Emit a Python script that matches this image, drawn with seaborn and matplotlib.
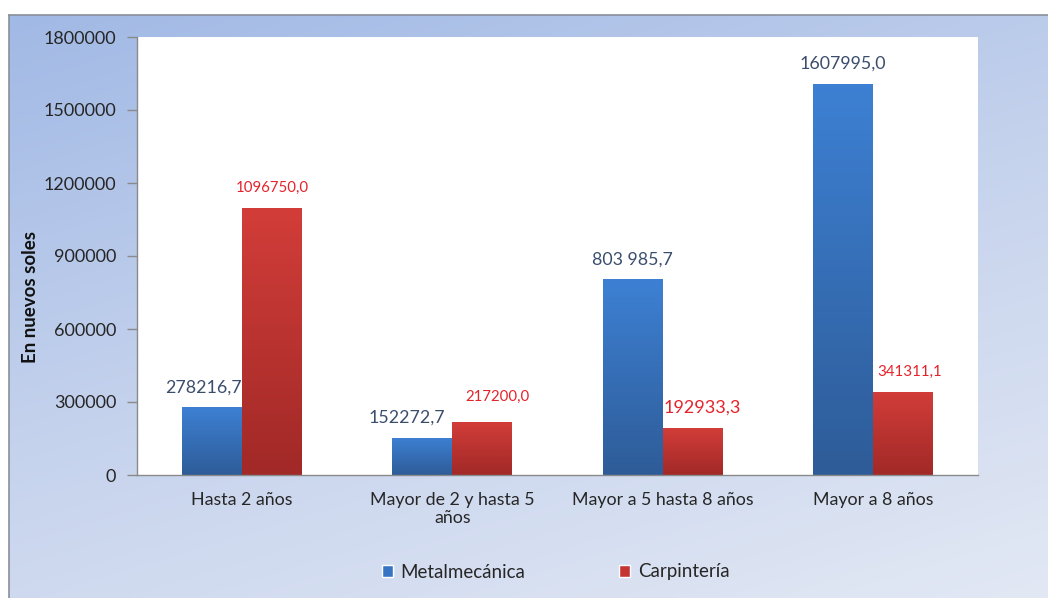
import pandas as pd
import matplotlib.pyplot as plt
import seaborn as sns
import numpy as np
from matplotlib.colors import LinearSegmentedColormap
from matplotlib.patches import Patch

# Datos del grafico
categorias = ["Hasta 2 años", "Mayor de 2 y hasta 5\naños",
              "Mayor a 5 hasta 8 años", "Mayor a 8 años"]
series = ["Metalmecánica", "Carpintería"]
metalmecanica = [278216.7, 152272.7, 803985.7, 1607995.0]
carpinteria = [1096750.0, 217200.0, 192933.3, 341311.1]
etiquetas_metal = ["278216,7", "152272,7", "803 985,7", "1607995,0"]
etiquetas_carp = ["1096750,0", "217200,0", "192933,3", "341311,1"]
yticks = [0, 300000, 600000, 900000, 1200000, 1500000, 1800000]

df = pd.DataFrame({
    "categoria": categorias * 2,
    "serie": [series[0]] * 4 + [series[1]] * 4,
    "valor": metalmecanica + carpinteria,
})

sns.set_style("white")
plt.rcParams['font.family'] = ['Lato', 'DejaVu Sans']

fig = plt.figure(figsize=(10.48, 5.98), dpi=100)
W, H = 1048, 598

# fondo degradado azul
bg = fig.add_axes([9 / W, 0, 1 - 9 / W, 1 - 15 / H])
yy, xx = np.mgrid[0:1:200j, 0:1:300j]
g = 0.65 * yy + 0.35 * xx
bg_cmap = LinearSegmentedColormap.from_list("bg", ["#a1b9e5", "#c6d3ed", "#e2e8f4"])
bg.imshow(g, cmap=bg_cmap, aspect="auto", extent=[0, 1, 1, 0])
bg.set_xticks([])
bg.set_yticks([])
for s in ["top", "left"]:
    bg.spines[s].set_color("#8a8f99")
    bg.spines[s].set_linewidth(1.2)
for s in ["right", "bottom"]:
    bg.spines[s].set_visible(False)

ax = fig.add_axes([137 / W, 1 - 475 / H, (978 - 137) / W, (475 - 37) / H])
ax.set_facecolor("white")

sns.barplot(data=df, x="categoria", y="valor", hue="serie",
            palette=["#3874c4", "#c43532"], width=0.57, legend=False,
            saturation=1, ax=ax)

# degradado en las barras
blue_cmap = LinearSegmentedColormap.from_list("b", ["#2e5c98", "#3d80d3"])
red_cmap = LinearSegmentedColormap.from_list("r", ["#a12927", "#d23d39"])
grad = np.linspace(0, 1, 100).reshape(-1, 1)
bars = list(ax.patches)
for i, p in enumerate(bars):
    x, y0 = p.get_x(), p.get_y()
    w, h = p.get_width(), p.get_height()
    cm = blue_cmap if i < 4 else red_cmap
    im = ax.imshow(grad, cmap=cm, aspect="auto", origin="lower",
                   extent=[x, x + w, y0, y0 + h], zorder=p.get_zorder() + 0.1)
    im.set_clip_path(p)

ax.set_xlim(-0.5, 3.5)
ax.set_ylim(0, 1800000)

# etiquetas de datos
dx_metal = [-9, -16, 0, 0]
dx_carp = [0, 15, 10, 7]
size_carp = [10.8, 10.8, 13, 10.8]
for i, p in enumerate(bars):
    cx = p.get_x() + p.get_width() / 2
    top = p.get_height()
    if i < 4:
        ax.annotate(etiquetas_metal[i], (cx, top), xytext=(dx_metal[i] / 1.39, 14.5),
                    textcoords="offset points", ha="center", va="center",
                    fontsize=12.8, color="#3b4d6d", zorder=5)
    else:
        j = i - 4
        ax.annotate(etiquetas_carp[j], (cx, top), xytext=(dx_carp[j] / 1.39, 14.5 if j != 1 else 18),
                    textcoords="offset points", ha="center", va="center",
                    fontsize=size_carp[j], color="#e5232b", zorder=5)

ax.set_yticks(yticks)
ax.set_yticklabels([str(v) for v in yticks])
ax.set_xticks(range(4))
ax.set_xticks(np.arange(-0.5, 4, 1), minor=True)
ax.set_xticklabels(categorias)
ax.tick_params(axis="x", which="major", length=0, pad=12, labelsize=12.8, labelcolor="#262626")
ax.tick_params(axis="x", which="minor", length=7, width=1, color="#8a8a8a")
ax.tick_params(axis="y", length=7, width=1, color="#8a8a8a", pad=8, labelsize=13,
               labelcolor="#262626", left=True)
for s in ["top", "right"]:
    ax.spines[s].set_visible(False)
for s in ["left", "bottom"]:
    ax.spines[s].set_color("#8a8a8a")
    ax.spines[s].set_linewidth(1)

ax.set_xlabel("")
ax.set_ylabel("En nuevos soles", fontsize=13.5, fontweight="bold", color="#111111")
ax.yaxis.set_label_coords(-0.117, 0.406)

handles = [Patch(facecolor="#3874c4"), Patch(facecolor="#c43532")]
fig.legend(handles, series, loc="center", bbox_to_anchor=(0.530, 1 - 572 / H),
           ncol=2, frameon=False, fontsize=13.5, handlelength=0.6, handleheight=0.6,
           handletextpad=0.4, columnspacing=5.0)

fig.savefig("out.png", dpi=100)
